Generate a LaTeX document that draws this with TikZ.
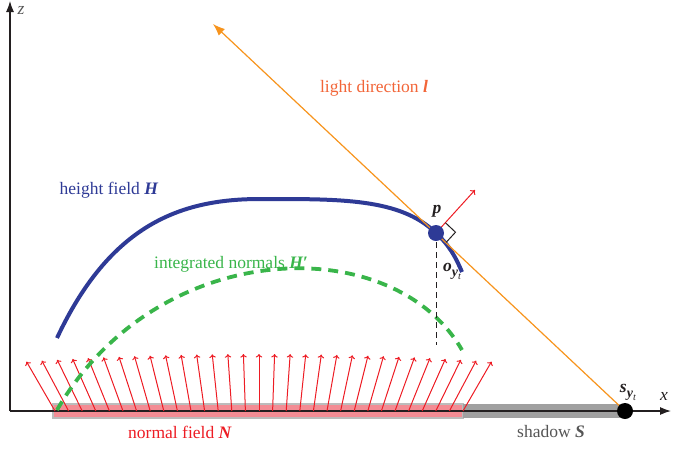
\documentclass[tikz,border=0pt]{standalone}
\usepackage{fontspec}
\setmainfont{Liberation Serif}
\usetikzlibrary{arrows.meta}
\definecolor{hblue}{RGB}{46,58,150}
\definecolor{igreen}{RGB}{57,181,74}
\definecolor{lorange}{RGB}{247,148,29}
\definecolor{ltext}{RGB}{242,101,56}
\definecolor{nred}{RGB}{237,28,36}
\definecolor{barpink}{RGB}{243,140,148}
\definecolor{bargray}{RGB}{160,160,160}
\definecolor{txtgray}{RGB}{85,85,85}
\definecolor{ink}{RGB}{35,31,32}
\tikzset{
  axisline/.style={ink, line width=1.2pt, -{Latex[length=11pt,width=8pt]}},
  normarrow/.style={nred, line width=1pt, -{To[length=3.5pt,width=6.5pt]}},
  lbl/.style={inner sep=0pt, font=\fontsize{17.5}{20}\selectfont},
  dot/.style={circle, inner sep=0pt, minimum size=16pt},
}
\newcommand{\bi}[1]{\textbf{\textit{#1}}}
\newcommand{\yt}{\raisebox{-5pt}{\fontsize{14}{14}\selectfont\bi{y}\raisebox{-3pt}{\fontsize{10}{10}\selectfont\textit{t}}}}
\begin{document}
\begin{tikzpicture}[x=1pt,y=-1pt]
\useasboundingbox (0,0) rectangle (673,448);
% bars
\draw[bargray!70, line width=1.5pt, fill=barpink] (53,404) rectangle (463,418);
\fill[bargray] (463,404) rectangle (625,418);
% axes
\coordinate (O) at (10,411);
\coordinate (X) at (671,411);
\coordinate (Z) at (10,1);
\draw[axisline] (O) -- (X);
\draw[axisline] (O) -- (Z);
\node[lbl, text=txtgray] (zl) at (21,10) {\textit{z}};
\node[lbl, text=ink] (xl) at (664,396) {\textit{x}};
% normal field arrows
\foreach \i in {0,...,30}{
  \pgfmathsetmacro\bx{55+13.6*\i}
  \pgfmathsetmacro\ang{-30+2*\i}
  \pgfmathsetmacro\tx{\bx+57*sin(\ang)}
  \pgfmathsetmacro\ty{411-57*cos(\ang)}
  \coordinate (nb\i) at (\bx,411);
  \coordinate (nt\i) at (\tx,\ty);
  \draw[normarrow] (nb\i) -- (nt\i);
}
% curves
\coordinate (pc) at (436,233);
\coordinate (sc) at (625,411);
\coordinate (ltip) at (213,24);
\draw[igreen, line width=3.8pt, dash pattern=on 10pt off 7pt] (57,410) .. controls (157,237) and (392,229) .. (462,350);
\draw[hblue, line width=4pt] (57,338) .. controls (110,225) and (180,199) .. (260,199) .. controls (340,199) and (400,198) .. (pc) .. controls (450,246) and (456,258) .. (462,272);
% light line
\draw[lorange, line width=1.2pt, -{Latex[length=12pt,width=9pt]}] (sc) -- (ltip);
% dashed offset
\coordinate (ob) at (436,345);
\draw[ink, line width=1pt, dash pattern=on 6pt off 4pt] (436,242) -- (ob);
% normal at p and right angle
\coordinate (pn) at (475,190);
\draw[nred, line width=1pt, -{To[length=4pt,width=7pt]}] (pc) -- (pn);
\draw[ink, line width=1pt] (445.4,222.7) -- (455.5,232.2) -- (446.2,242.3);
% points
\node[dot, fill=hblue] (p) at (pc) {};
\node[dot, fill=black] (s) at (sc) {};
% labels
\node[lbl, text=ink] (pl) at (437,211) {\bi{p}};
\node[lbl, text=ink] (ol) at (452,271) {\bi{o}\yt};
\node[lbl, text=ink] (sl) at (628,392) {\bi{s}\yt};
\node[lbl, text=hblue] (hl) at (109,190) {height field \bi{H}};
\node[lbl, text=igreen] (gl) at (231,264) {integrated normals \bi{H′}};
\node[lbl, text=ltext] (ll) at (374,88) {light direction \bi{l}};
\node[lbl, text=nred] (nl) at (180,432) {normal field \bi{N}};
\node[lbl, text=txtgray] (shl) at (551,432) {shadow \bi{S}};
\end{tikzpicture}
\end{document}
